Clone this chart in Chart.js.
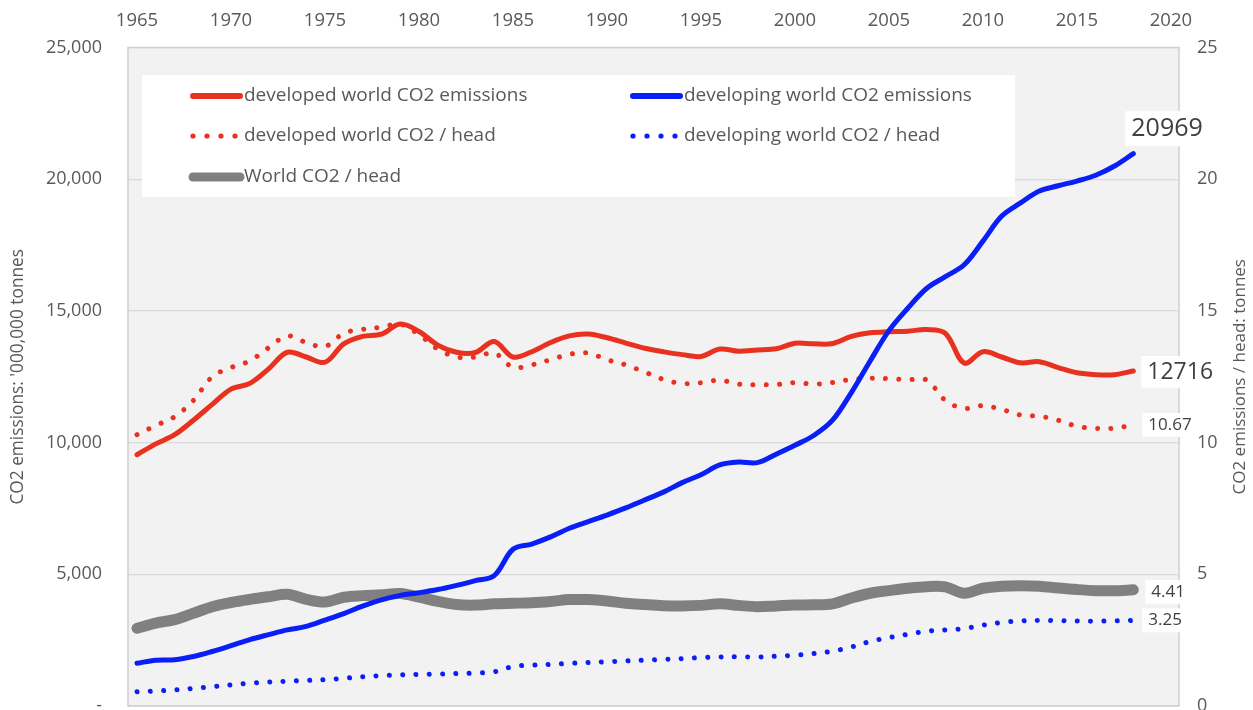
<!DOCTYPE html>
<html><head><meta charset="utf-8">
<script src="https://cdn.jsdelivr.net/npm/chart.js@4.4.1/dist/chart.umd.min.js"></script>
<style>
html,body{margin:0;padding:0;background:#fff;overflow:hidden;}
#wrap{position:relative;width:1253px;height:722px;}
</style></head><body>
<div id="wrap"><canvas id="c" width="1253" height="722"></canvas></div>
<script>
const years = [1965,1966,1967,1968,1969,1970,1971,1972,1973,1974,1975,1976,1977,1978,1979,1980,1981,1982,1983,1984,1985,1986,1987,1988,1989,1990,1991,1992,1993,1994,1995,1996,1997,1998,1999,2000,2001,2002,2003,2004,2005,2006,2007,2008,2009,2010,2011,2012,2013,2014,2015,2016,2017,2018];

const developedEmissions = [9540,9950,10300,10850,11450,12030,12250,12800,13430,13250,13050,13750,14030,14120,14500,14220,13700,13430,13420,13840,13250,13450,13800,14050,14120,13980,13780,13580,13450,13340,13270,13550,13470,13520,13560,13770,13750,13760,14030,14170,14210,14230,14290,14150,13020,13450,13250,13030,13070,12850,12650,12580,12580,12716];

const developingEmissions = [1620,1740,1760,1880,2070,2290,2520,2710,2890,3020,3260,3510,3790,4030,4200,4300,4420,4580,4760,4950,5950,6150,6420,6750,7000,7250,7520,7820,8120,8480,8780,9150,9260,9240,9560,9900,10270,10850,11900,13100,14250,15100,15850,16300,16750,17650,18600,19100,19550,19750,19930,20150,20500,20969];

const developedPerHead = [10.3,10.65,10.98,11.6,12.5,12.85,13.1,13.6,14.05,13.8,13.65,14.15,14.3,14.38,14.5,14.1,13.55,13.25,13.25,13.4,12.86,12.95,13.15,13.35,13.4,13.15,12.95,12.68,12.4,12.24,12.27,12.37,12.22,12.2,12.2,12.28,12.22,12.28,12.4,12.44,12.43,12.39,12.38,11.6,11.3,11.4,11.26,11.05,11.0,10.85,10.62,10.54,10.55,10.67];

const developingPerHead = [0.54,0.57,0.61,0.67,0.73,0.8,0.87,0.91,0.94,0.97,1.0,1.05,1.11,1.15,1.18,1.2,1.21,1.23,1.25,1.3,1.5,1.55,1.58,1.62,1.65,1.68,1.71,1.74,1.77,1.8,1.84,1.86,1.87,1.86,1.89,1.93,1.99,2.08,2.24,2.45,2.6,2.72,2.84,2.89,2.94,3.07,3.17,3.23,3.25,3.24,3.23,3.22,3.23,3.25];

const worldPerHead = [2.95,3.15,3.28,3.52,3.77,3.93,4.05,4.15,4.24,4.05,3.95,4.13,4.19,4.22,4.27,4.13,3.97,3.85,3.83,3.88,3.9,3.92,3.97,4.04,4.04,3.99,3.9,3.85,3.81,3.8,3.82,3.88,3.82,3.77,3.8,3.83,3.84,3.88,4.1,4.28,4.38,4.47,4.53,4.52,4.28,4.47,4.55,4.57,4.55,4.48,4.42,4.38,4.38,4.41];

const xTickYears = [1965,1970,1975,1980,1985,1990,1995,2000,2005,2010,2015,2020];
const leftTicks = [0,5000,10000,15000,20000,25000];
const rightTicks = [0,5,10,15,20,25];

const seriesNames = {
  developedEmissions: 'developed world CO2 emissions',
  developingEmissions: 'developing world CO2 emissions',
  developedPerHead: 'developed world CO2 / head',
  developingPerHead: 'developing world CO2 / head',
  worldPerHead: 'World CO2 / head'
};
const leftTitle = "CO2 emissions: '000,000 tonnes";
const rightTitle = 'CO2 emissions / head: tonnes';

// ---------- styling ----------
const FONT = "'Open Sans', sans-serif";
const TXT = '#595959';
const RED = '#e8321f';
const BLUE = '#0a1ff5';
const GRAY = '#808080';
const DOTS = [0.01, 13.3];

const pts = arr => years.map((y, i) => ({x: y, y: arr[i]}));

const datasets = [
  {key:'developingEmissions', label: seriesNames.developingEmissions, data: pts(developingEmissions), yAxisID:'y',
   borderColor: BLUE, borderWidth: 5, endLabel:{size:25, dx:-2, dy:-25}},
  {key:'developedEmissions', label: seriesNames.developedEmissions, data: pts(developedEmissions), yAxisID:'y',
   borderColor: RED, borderWidth: 5, endLabel:{size:23, dx:14, dy:1}},
  {key:'developedPerHead', label: seriesNames.developedPerHead, data: pts(developedPerHead), yAxisID:'y2',
   borderColor: RED, borderWidth: 5, borderDash: DOTS, borderCapStyle:'round', endLabel:{size:17, dx:15, dy:0}},
  {key:'developingPerHead', label: seriesNames.developingPerHead, data: pts(developingPerHead), yAxisID:'y2',
   borderColor: BLUE, borderWidth: 5, borderDash: DOTS, borderCapStyle:'round', endLabel:{size:17, dx:15, dy:0}},
  {key:'worldPerHead', label: seriesNames.worldPerHead, data: pts(worldPerHead), yAxisID:'y2',
   borderColor: GRAY, borderWidth: 11, borderCapStyle:'round', endLabel:{size:17, dx:18, dy:2}}
];
datasets.forEach(d => { d.pointRadius = 0; d.tension = 0.35; d.fill = false; d.borderJoinStyle = 'round'; if(!d.borderCapStyle) d.borderCapStyle='round'; });

const legendOrder = ['developedEmissions','developingEmissions','developedPerHead','developingPerHead','worldPerHead'];
const legendSlots = [{x:190,y:96},{x:630,y:96},{x:190,y:136},{x:630,y:136},{x:190,y:177}];

const plotDecor = {
  id:'plotDecor',
  beforeDraw(chart){
    const {ctx, chartArea:a} = chart;
    ctx.save();
    ctx.fillStyle = '#f2f2f2';
    ctx.fillRect(a.left, a.top, a.right-a.left, a.bottom-a.top);
    ctx.restore();
  },
  beforeDatasetsDraw(chart){
    const {ctx, chartArea:a} = chart;
    ctx.save();
    ctx.strokeStyle = '#d0d0d0'; ctx.lineWidth = 1.5;
    ctx.strokeRect(a.left, a.top, a.right-a.left, a.bottom-a.top);
    // legend box
    ctx.fillStyle = '#ffffff';
    ctx.fillRect(142, 75, 873, 122);
    ctx.font = '19px ' + FONT;
    ctx.textBaseline = 'middle';
    ctx.textAlign = 'left';
    legendOrder.forEach((k, i) => {
      const ds = chart.data.datasets.find(d => d.key === k);
      const s = legendSlots[i];
      ctx.strokeStyle = ds.borderColor;
      ctx.fillStyle = ds.borderColor;
      if (ds.borderDash) {
        for (let j = 0; j < 4; j++) {
          ctx.beginPath(); ctx.arc(s.x + 3 + j*14, s.y, 2.6, 0, Math.PI*2); ctx.fill();
        }
      } else {
        ctx.lineWidth = ds.key === 'worldPerHead' ? 9 : 6;
        ctx.lineCap = 'round';
        ctx.beginPath(); ctx.moveTo(s.x + 3, s.y); ctx.lineTo(s.x + 50, s.y); ctx.stroke();
      }
      ctx.fillStyle = TXT;
      ctx.fillText(ds.label, s.x + 54, s.y);
    });
    ctx.restore();
  },
  afterDatasetsDraw(chart){
    const {ctx} = chart;
    ctx.save();
    chart.data.datasets.forEach((ds, i) => {
      const meta = chart.getDatasetMeta(i);
      const p = meta.data[meta.data.length-1];
      const v = ds.data[ds.data.length-1].y;
      const txt = String(v);
      const L = ds.endLabel;
      ctx.font = L.size + 'px ' + FONT;
      const w = ctx.measureText(txt).width;
      const x = p.x + L.dx, y = p.y + L.dy;
      ctx.fillStyle = '#ffffff';
      ctx.fillRect(x - 6, y - L.size*0.7, w + 10, L.size*1.4);
      ctx.fillStyle = '#404040';
      ctx.textBaseline = 'middle'; ctx.textAlign = 'left';
      ctx.fillText(txt, x, y);
    });
    ctx.restore();
  },
  afterDraw(chart){
    const {ctx, chartArea:a} = chart;
    const cy = (a.top + a.bottom) / 2;
    ctx.save();
    ctx.font = '17.3px ' + FONT;
    ctx.fillStyle = TXT; ctx.textAlign = 'center'; ctx.textBaseline = 'middle';
    ctx.translate(18, cy); ctx.rotate(-Math.PI/2); ctx.fillText(leftTitle, 0, 0);
    ctx.restore();
    ctx.save();
    ctx.font = '17px ' + FONT;
    ctx.fillStyle = TXT; ctx.textAlign = 'center'; ctx.textBaseline = 'middle';
    ctx.translate(1240, cy); ctx.rotate(-Math.PI/2); ctx.fillText(rightTitle, 0, 0);
    ctx.restore();
  }
};

const xFont = {family: FONT, size: 18.5};
const yFont = {family: FONT, size: 18};

new Chart(document.getElementById('c'), {
  type: 'line',
  data: {datasets},
  options: {
    responsive: false, animation: false, devicePixelRatio: 1,
    layout: {padding: {top: 0, left: 0, right: 0, bottom: 16}},
    plugins: {legend: {display: false}, tooltip: {enabled: false}},
    scales: {
      x: {
        type: 'linear', position: 'top', min: 1964.52, max: 2020.43,
        afterBuildTicks: s => { s.ticks = xTickYears.map(v => ({value: v})); },
        afterFit: s => { s.height = 47.5; s.paddingLeft = 0; s.paddingRight = 0; },
        grid: {display: false, drawTicks: false}, border: {display: false},
        ticks: {font: xFont, color: TXT, padding: 16, maxRotation: 0, autoSkip: false, callback: v => String(v)}
      },
      y: {
        position: 'left', min: 0, max: 25000,
        afterBuildTicks: s => { s.ticks = leftTicks.map(v => ({value: v})); },
        afterFit: s => { s.width = 128; s.paddingTop = 0; s.paddingBottom = 0; },
        grid: {color: '#d9d9d9', lineWidth: 1.2, drawTicks: false}, border: {display: false},
        ticks: {font: yFont, color: TXT, padding: 26, callback: v => v === 0 ? '-' : v.toLocaleString('en-US')}
      },
      y2: {
        position: 'right', min: 0, max: 25,
        afterBuildTicks: s => { s.ticks = rightTicks.map(v => ({value: v})); },
        afterFit: s => { s.width = 74; s.paddingTop = 0; s.paddingBottom = 0; },
        grid: {display: false, drawTicks: false}, border: {display: false},
        ticks: {font: yFont, color: TXT, padding: 18}
      }
    }
  },
  plugins: [plotDecor]
});
</script>
</body></html>
